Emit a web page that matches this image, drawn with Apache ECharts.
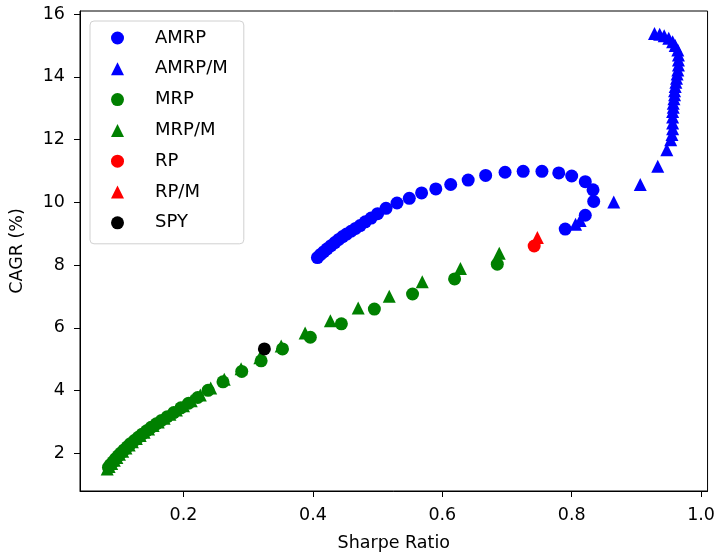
<!DOCTYPE html>
<html>
<head>
<meta charset="utf-8">
<script src="https://cdn.jsdelivr.net/npm/echarts@6/dist/echarts.min.js"></script>
<style>
  html, body { margin: 0; padding: 0; background: #fff; }
  #chart { width: 718px; height: 557px; }
</style>
</head>
<body>
<div id="chart"></div>
<script>
// [Sharpe Ratio, CAGR %]
const amrp = [
  [0.407, 8.24], [0.412, 8.34], [0.417, 8.43], [0.422, 8.52], [0.428, 8.62], [0.434, 8.72],
  [0.440, 8.82], [0.446, 8.91], [0.452, 8.99], [0.459, 9.08], [0.466, 9.17], [0.473, 9.26],
  [0.481, 9.38], [0.490, 9.50], [0.500, 9.64], [0.513, 9.81], [0.530, 9.98], [0.549, 10.13],
  [0.568, 10.30], [0.590, 10.43], [0.613, 10.57], [0.640, 10.71], [0.667, 10.86], [0.697, 10.96],
  [0.725, 10.99], [0.754, 10.99], [0.780, 10.94], [0.800, 10.84], [0.821, 10.66], [0.833, 10.40],
  [0.834, 10.03], [0.821, 9.59], [0.790, 9.15]
]
const amrpM = [
  [0.806, 9.30], [0.813, 9.42], [0.865, 10.01], [0.906, 10.57], [0.933, 11.15], [0.947, 11.68],
  [0.953, 12.00], [0.955, 12.16], [0.956, 12.35], [0.956, 12.53], [0.956, 12.72], [0.956, 12.90],
  [0.957, 13.03], [0.957, 13.16], [0.958, 13.30], [0.959, 13.43], [0.959, 13.56], [0.960, 13.69],
  [0.961, 13.83], [0.962, 13.96], [0.963, 14.09], [0.964, 14.22], [0.965, 14.38], [0.965, 14.54],
  [0.965, 14.70], [0.964, 14.86], [0.960, 15.00], [0.956, 15.12], [0.950, 15.23], [0.943, 15.31],
  [0.936, 15.36], [0.928, 15.38]
]
const mrp = [
  [0.685, 8.03], [0.619, 7.56], [0.554, 7.08], [0.495, 6.60], [0.444, 6.13], [0.396, 5.70],
  [0.353, 5.33], [0.320, 4.95], [0.290, 4.61], [0.261, 4.28], [0.238, 4.01], [0.222, 3.78],
  [0.208, 3.60], [0.196, 3.45], [0.185, 3.30], [0.175, 3.17], [0.166, 3.05], [0.158, 2.94],
  [0.150, 2.83], [0.143, 2.72], [0.136, 2.61], [0.130, 2.51], [0.124, 2.41], [0.118, 2.31],
  [0.113, 2.21], [0.108, 2.11], [0.103, 2.01], [0.099, 1.92], [0.095, 1.83], [0.091, 1.73],
  [0.087, 1.64], [0.084, 1.55]
]
const mrpM = [
  [0.688, 8.38], [0.628, 7.89], [0.569, 7.47], [0.518, 7.01], [0.470, 6.63], [0.427, 6.23],
  [0.388, 5.84], [0.351, 5.42], [0.318, 5.05], [0.289, 4.70], [0.263, 4.36], [0.242, 4.08],
  [0.226, 3.86], [0.212, 3.68], [0.200, 3.52], [0.189, 3.38], [0.179, 3.25], [0.170, 3.12],
  [0.161, 3.00], [0.153, 2.89], [0.146, 2.78], [0.139, 2.67], [0.133, 2.57], [0.127, 2.47],
  [0.121, 2.37], [0.116, 2.27], [0.111, 2.17], [0.106, 2.07], [0.101, 1.97], [0.097, 1.87],
  [0.093, 1.78], [0.089, 1.68], [0.085, 1.58], [0.082, 1.50]
]
const rp = [[0.742, 8.61]]
const rpM = [[0.747, 8.88]]
const spy = [[0.325, 5.33]]

const xTicks = [0.2, 0.4, 0.6, 0.8, 1.0]
const yTicks = [2, 4, 6, 8, 10, 12, 14, 16]

const FONT = 'DejaVu Sans'
const chart = echarts.init(document.getElementById('chart'))

// 每个系列：名字、数据、颜色、形状
const seriesDefs = [
  { name: 'AMRP', data: amrp, color: '#0000ff', symbol: 'circle' },
  { name: 'AMRP/M', data: amrpM, color: '#0000ff', symbol: 'triangle' },
  { name: 'MRP', data: mrp, color: '#008000', symbol: 'circle' },
  { name: 'MRP/M', data: mrpM, color: '#008000', symbol: 'triangle' },
  { name: 'RP', data: rp, color: '#ff0000', symbol: 'circle' },
  { name: 'RP/M', data: rpM, color: '#ff0000', symbol: 'triangle' },
  { name: 'SPY', data: spy, color: '#000000', symbol: 'circle' }
]

const option = {
  animation: false,
  grid: {
    left: 80, top: 11, right: 7, bottom: 64,
    show: true, borderColor: '#000', borderWidth: 1
  },
  legend: {
    orient: 'vertical',
    left: 90,
    top: 21,
    padding: [8, 16, 12, 21],
    itemWidth: 13,
    itemHeight: 13,
    itemGap: 12.8,
    borderColor: '#d0d0d0',
    borderWidth: 1,
    borderRadius: 4,
    backgroundColor: 'rgba(255,255,255,0.8)',
    textStyle: { fontFamily: FONT, fontSize: 18, color: '#000', lineHeight: 18, padding: [0, 0, 0, 26] },
    data: seriesDefs.map(s => ({ name: s.name, icon: s.symbol }))
  },
  xAxis: {
    type: 'value',
    min: 0.04,
    max: 1.01,
    name: 'Sharpe Ratio',
    nameLocation: 'middle',
    nameGap: 43,
    nameTextStyle: { fontFamily: FONT, fontSize: 17.5, color: '#000' },
    axisLine: { onZero: false, lineStyle: { color: '#000', width: 1 } },
    axisTick: { show: true, customValues: xTicks, length: 6, lineStyle: { color: '#000' } },
    axisLabel: {
      customValues: xTicks, margin: 15,
      fontFamily: FONT, fontSize: 17.5, color: '#000',
      formatter: v => v.toFixed(1)
    },
    splitLine: { show: false }
  },
  yAxis: {
    type: 'value',
    min: 0.8,
    max: 16.1,
    name: 'CAGR (%)',
    nameLocation: 'middle',
    nameGap: 54,
    nameTextStyle: { fontFamily: FONT, fontSize: 17.5, color: '#000' },
    axisLine: { show: true, onZero: false, lineStyle: { color: '#000', width: 1 } },
    axisTick: { show: true, customValues: yTicks, length: 6, lineStyle: { color: '#000' } },
    axisLabel: {
      customValues: yTicks, margin: 15,
      fontFamily: FONT, fontSize: 17.5, color: '#000'
    },
    splitLine: { show: false }
  },
  series: seriesDefs.map(s => ({
    name: s.name,
    type: 'scatter',
    data: s.data,
    symbol: s.symbol,
    symbolSize: 13,
    itemStyle: { color: s.color, opacity: 1 }
  }))
}
chart.setOption(option)
</script>
</body>
</html>
